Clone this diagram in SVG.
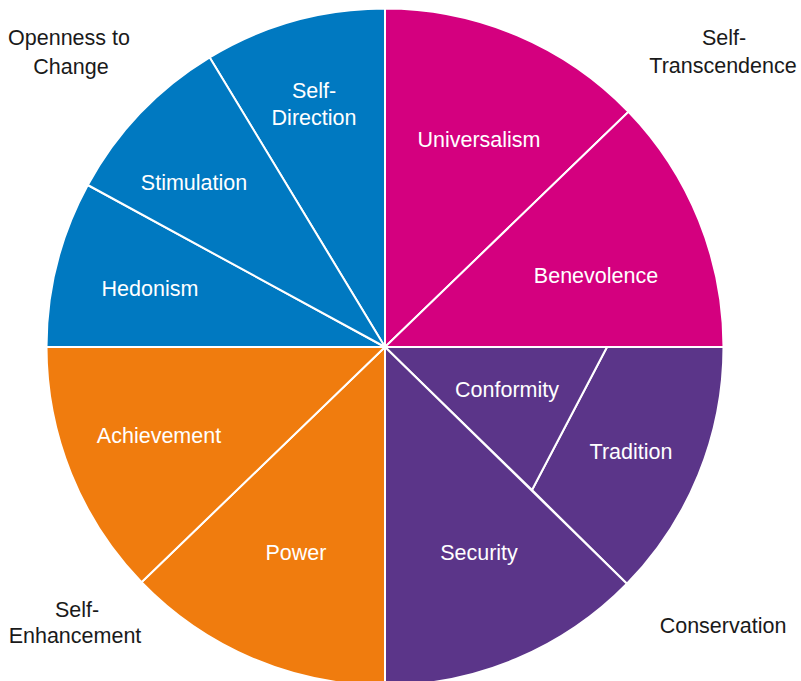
<svg xmlns="http://www.w3.org/2000/svg" width="801" height="681" viewBox="0 0 801 681">
<style>
.s{stroke:#ffffff;stroke-width:2;stroke-linejoin:round}
.b{fill:#0079c1}.m{fill:#d4007f}.p{fill:#5b3589}.o{fill:#f07c0e}
text{font-family:"Liberation Sans",Arial,sans-serif;font-size:21.5px;text-anchor:middle}
.w{fill:#ffffff}.k{fill:#1a1a1a}
</style>
<rect width="801" height="681" fill="#ffffff"/>
<g id="self-direction"><path class="s b" d="M385,347 L209.7,57.4 A338.5,338.5 0 0 1 385,8.5 Z"/><text class="w" x="314" y="98">Self-</text><text class="w" x="314" y="125">Direction</text></g>
<g id="universalism"><path class="s m" d="M385,347 L385,8.5 A338.5,338.5 0 0 1 628.5,111.8 Z"/><text class="w" x="479" y="147">Universalism</text></g>
<g id="benevolence"><path class="s m" d="M385,347 L628.5,111.8 A338.5,338.5 0 0 1 723.5,347 Z"/><text class="w" x="596" y="283">Benevolence</text></g>
<g id="tradition"><path class="s p" d="M607,347 L723.5,347 A338.5,338.5 0 0 1 626.9,583.8 L532,490 Z"/><text class="w" x="631" y="459">Tradition</text></g>
<g id="conformity"><path class="s p" d="M385,347 L607,347 L532,490 Z"/><text class="w" x="507" y="397">Conformity</text></g>
<g id="security"><path class="s p" d="M385,347 L626.9,583.8 A338.5,338.5 0 0 1 385,685.5 Z"/><text class="w" x="479" y="560">Security</text></g>
<g id="power"><path class="s o" d="M385,347 L385,685.5 A338.5,338.5 0 0 1 141.5,582.2 Z"/><text class="w" x="296" y="560">Power</text></g>
<g id="achievement"><path class="s o" d="M385,347 L141.5,582.2 A338.5,338.5 0 0 1 46.5,347 Z"/><text class="w" x="159" y="443">Achievement</text></g>
<g id="hedonism"><path class="s b" d="M385,347 L46.5,347 A338.5,338.5 0 0 1 87.8,185 Z"/><text class="w" x="150" y="296">Hedonism</text></g>
<g id="stimulation"><path class="s b" d="M385,347 L87.8,185 A338.5,338.5 0 0 1 209.7,57.4 Z"/><text class="w" x="194" y="190">Stimulation</text></g>
<g id="connectors"></g>
<g id="openness-to-change"><text class="k" x="69" y="45">Openness to</text><text class="k" x="71" y="74">Change</text></g>
<g id="self-transcendence"><text class="k" x="724" y="45">Self-</text><text class="k" x="723" y="73">Transcendence</text></g>
<g id="self-enhancement"><text class="k" x="77" y="617">Self-</text><text class="k" x="75" y="643">Enhancement</text></g>
<g id="conservation"><text class="k" x="723" y="633">Conservation</text></g>
</svg>
